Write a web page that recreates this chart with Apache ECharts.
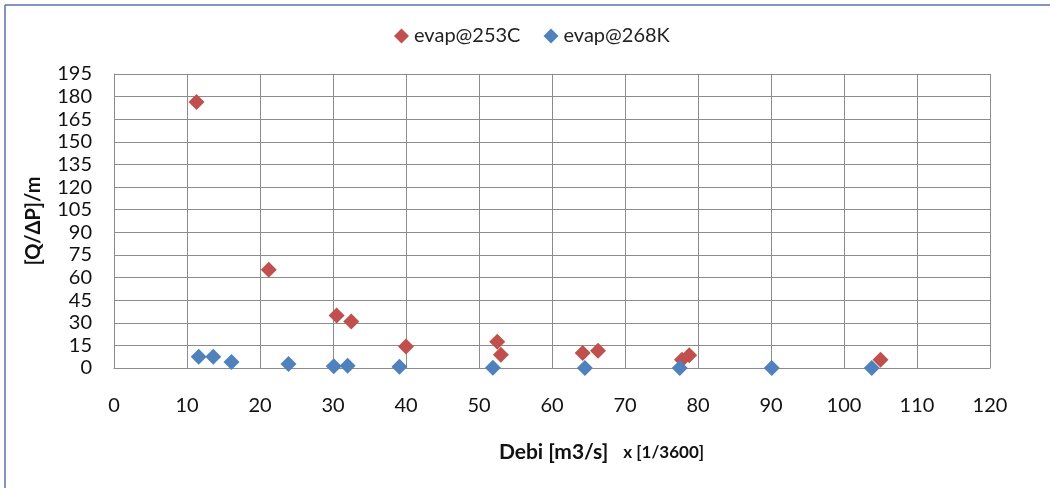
<!DOCTYPE html>
<html><head><meta charset="utf-8">
<script src="https://cdn.jsdelivr.net/npm/echarts@6/dist/echarts.min.js"></script>
<style>html,body{margin:0;padding:0;background:#fff}#c{width:1050px;height:488px}</style>
</head><body><div id="c"></div>
<script>
const seriesNames = ['evap@253C', 'evap@268K'];
const redX = [11.3, 21.2, 30.5, 32.5, 40.0, 52.5, 53.0, 64.2, 66.3, 77.8, 78.8, 105.0];
const redY = [176.5, 65.1, 34.9, 30.9, 14.3, 17.4, 8.8, 9.9, 11.5, 5.5, 8.5, 5.5];
const blueX = [11.6, 13.6, 16.1, 23.9, 30.1, 32.0, 39.1, 51.9, 64.5, 77.5, 90.1, 103.8];
const blueY = [7.5, 7.5, 4.0, 2.6, 1.1, 1.5, 0.9, 0.2, 0.0, 0.0, 0.0, 0.0];
const xTicks = {min: 0, max: 120, interval: 10};
const yTicks = {min: 0, max: 195, interval: 15};

const pairs = (xs, ys) => xs.map((x, i) => [x, ys[i]]);
const font = 'Lato, "Open Sans", sans-serif';
const chart = echarts.init(document.getElementById('c'), null, {renderer: 'canvas'});
chart.setOption({
  animation: false,
  backgroundColor: '#fff',
  textStyle: {fontFamily: font},
  legend: {
    top: 21, left: 389, itemGap: 23, itemWidth: 15, itemHeight: 15,
    textStyle: {fontSize: 20, color: '#222', fontFamily: font},
    data: [{name: seriesNames[0], icon: 'diamond'}, {name: seriesNames[1], icon: 'diamond'}]
  },
  grid: {left: 114, right: 60, top: 74, bottom: 120},
  xAxis: {
    type: 'value', min: xTicks.min, max: xTicks.max, interval: xTicks.interval,
    axisLine: {lineStyle: {color: '#8c8c8c', width: 1}},
    axisTick: {show: false},
    axisLabel: {fontSize: 20, color: '#111', margin: 28, fontFamily: font},
    splitLine: {lineStyle: {color: '#8c8c8c', width: 1}},
    name: '{a|Debi [m3/s]}{b|x [1/3600]}',
    nameLocation: 'middle', nameGap: 74,
    nameTextStyle: {
      padding: [0, 0, 0, 99],
      rich: {
        a: {fontSize: 21, fontWeight: 'bold', color: '#111', fontFamily: font},
        b: {fontSize: 17, fontWeight: 'bold', color: '#111', fontFamily: font, padding: [0, 0, 0, 15]}
      }
    }
  },
  yAxis: {
    type: 'value', min: yTicks.min, max: yTicks.max, interval: yTicks.interval,
    axisLine: {show: true, lineStyle: {color: '#8c8c8c', width: 1}},
    axisTick: {show: false},
    axisLabel: {fontSize: 20, color: '#111', margin: 22, fontFamily: font},
    splitLine: {lineStyle: {color: '#8c8c8c', width: 1}},
    name: '[Q/ΔP]/m', nameLocation: 'middle', nameGap: 70, nameRotate: 90,
    nameTextStyle: {fontSize: 20, fontWeight: 'bold', color: '#111', fontFamily: font}
  },
  series: [
    {name: seriesNames[0], type: 'scatter', symbol: 'diamond', symbolSize: 16, clip: false,
     itemStyle: {color: '#C0504D', opacity: 1}, data: pairs(redX, redY)},
    {name: seriesNames[1], type: 'scatter', symbol: 'diamond', symbolSize: 16, clip: false,
     itemStyle: {color: '#4F81BD', opacity: 1}, data: pairs(blueX, blueY)}
  ],
  graphic: [
    {type: 'line', shape: {x1: 5, y1: 5, x2: 1050, y2: 5}, style: {stroke: '#5a6fae', lineWidth: 1.5}},
    {type: 'line', shape: {x1: 5, y1: 5, x2: 5, y2: 488}, style: {stroke: '#5a6fae', lineWidth: 1.5}}
  ]
});
</script></body></html>
